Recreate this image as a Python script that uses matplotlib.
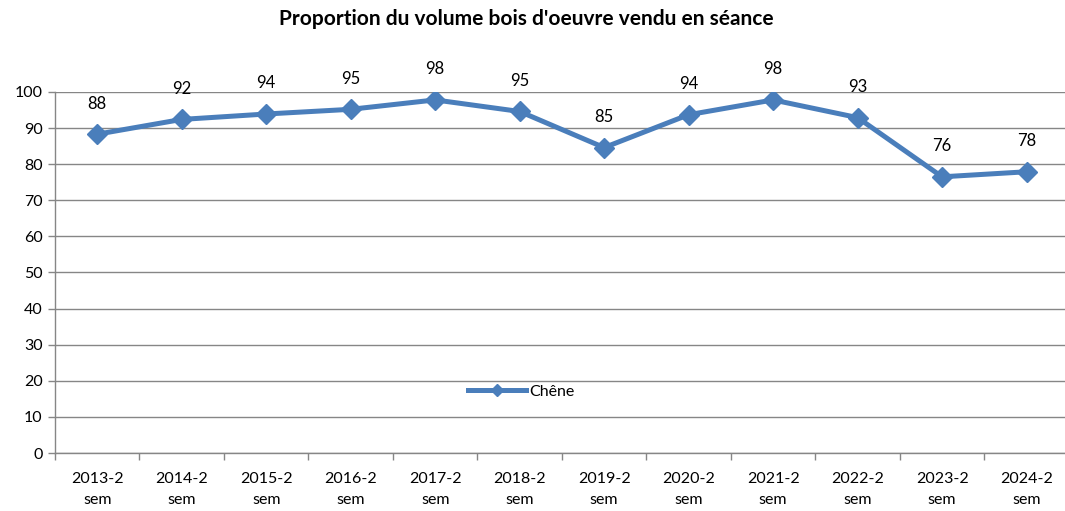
import matplotlib.pyplot as plt
import numpy as np

plt.rcParams['font.family'] = ['Lato', 'DejaVu Sans']

categories = ['2013-2\nsem', '2014-2\nsem', '2015-2\nsem', '2016-2\nsem', '2017-2\nsem', '2018-2\nsem',
              '2019-2\nsem', '2020-2\nsem', '2021-2\nsem', '2022-2\nsem', '2023-2\nsem', '2024-2\nsem']
chene = [88.3, 92.4, 93.9, 95.2, 97.8, 94.6, 84.6, 93.7, 97.8, 92.9, 76.5, 77.9]
labels = [88, 92, 94, 95, 98, 95, 85, 94, 98, 93, 76, 78]

blue = '#4A7EBB'
grey = '#868686'

fig = plt.figure(figsize=(10.65, 5.11), dpi=100)
ax = fig.add_axes([0.0516, 0.1135, 0.952, 0.7065])

x = np.arange(len(categories))
ax.plot(x, chene, color=blue, lw=3.6, marker='D', markersize=10, label='Chêne', zorder=3)

for xi, yi, lab in zip(x, chene, labels):
    ax.annotate(f'{lab}', (xi, yi), xytext=(0, 22), textcoords='offset points',
                ha='center', va='center', fontsize=12)

ax.set_xlim(-0.5, len(categories) - 0.5)
ax.set_ylim(0, 100)
ax.set_yticks(np.arange(0, 101, 10))
ax.yaxis.grid(True, color=grey, lw=1)
ax.set_axisbelow(True)

ax.set_xticks(x)
ax.set_xticklabels(categories, fontsize=11.5, linespacing=1.6)
ax.set_xticks(np.arange(-0.5, len(categories), 1), minor=True)
ax.tick_params(axis='x', which='major', length=0, pad=14)
ax.tick_params(axis='x', which='minor', length=5, color=grey, width=1)
ax.tick_params(axis='y', length=5, color=grey, width=1, labelsize=11.5, pad=4)

for s in ['top', 'right']:
    ax.spines[s].set_visible(False)
for s in ['left', 'bottom']:
    ax.spines[s].set_color(grey)
    ax.spines[s].set_linewidth(1)

fig.text(0.494, 0.963, "Proportion du volume bois d'oeuvre vendu en séance", fontsize=15,
         fontweight='bold', ha='center', va='center')

leg = ax.legend(loc='center', bbox_to_anchor=(0.46, 0.17), frameon=False, fontsize=11.5,
                numpoints=1, handlelength=3.6, handletextpad=0.2, markerscale=0.6)

fig.savefig('out.png', dpi=100)
